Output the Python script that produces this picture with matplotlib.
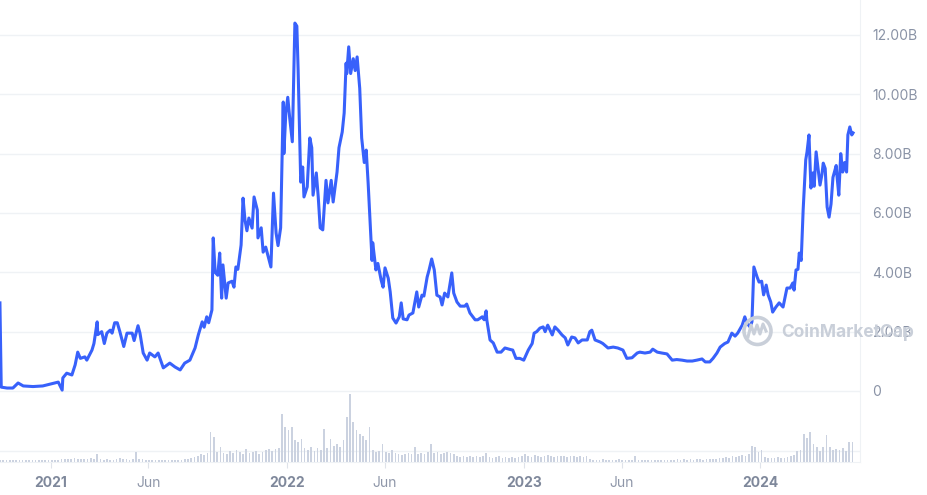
import matplotlib
matplotlib.use("Agg")
import matplotlib.pyplot as plt
import pandas as pd
from matplotlib.patches import Ellipse
from matplotlib.lines import Line2D

plt.rcParams['font.family'] = ['Inter', 'DejaVu Sans']

# market cap (billions USD); days counted from 2021-01-01
days = [
    -78, -76, -67, -58, -50, -42, -27, -12, -1, 12,
    18, 19, 25, 33, 38, 42, 46, 53, 56, 64,
    67, 72, 73, 79, 83, 87, 92, 95, 99, 103,
    107, 113, 118, 126, 129, 135, 138, 143, 149, 153,
    161, 166, 174, 184, 192, 200, 207, 215, 223, 228,
    234, 237, 241, 244, 249, 251, 254, 258, 261, 264,
    266, 271, 274, 280, 283, 286, 289, 294, 297, 300,
    303, 306, 311, 314, 319, 320, 325, 328, 332, 335,
    340, 344, 348, 351, 355, 359, 360, 363, 366, 369,
    373, 377, 380, 382, 386, 389, 391, 396, 400, 403,
    405, 410, 413, 416, 420, 425, 428, 433, 436, 439,
    442, 445, 450, 453, 456, 457, 460, 463, 467, 470,
    473, 477, 480, 484, 487, 490, 496, 497, 502, 505,
    510, 513, 516, 521, 524, 528, 533, 538, 541, 544,
    550, 553, 559, 565, 568, 573, 576, 581, 584, 588,
    592, 596, 601, 604, 608, 613, 616, 619, 622, 627,
    632, 639, 642, 647, 655, 659, 666, 669, 672, 673,
    678, 683, 689, 695, 701, 709, 713, 718, 724, 730,
    737, 743, 746, 750, 755, 760, 763, 767, 774, 778,
    783, 789, 794, 798, 804, 809, 814, 820, 828, 832,
    835, 840, 848, 852, 860, 868, 875, 883, 889, 897,
    905, 909, 917, 925, 929, 936, 943, 951, 959, 966,
    974, 982, 990, 997, 1005, 1010, 1017, 1022, 1028, 1033,
    1040, 1045, 1051, 1056, 1060, 1067, 1071, 1074, 1079, 1082,
    1085, 1090, 1093, 1097, 1100, 1104, 1107, 1111, 1114, 1119,
    1124, 1130, 1136, 1141, 1145, 1147, 1150, 1153, 1155, 1158,
    1161, 1165, 1167, 1170, 1173, 1176, 1178, 1181, 1184, 1187,
    1190, 1192, 1195, 1198, 1201, 1204, 1207, 1212, 1213, 1216,
    1219, 1222, 1225, 1228, 1230, 1233, 1236, 1238,
]
mcap = [
    2.97, 0.13, 0.10, 0.10, 0.27, 0.17, 0.15, 0.17, 0.23, 0.30,
    0.03, 0.44, 0.60, 0.54, 0.88, 1.31, 1.10, 1.15, 1.04, 1.38,
    1.60, 2.33, 1.90, 2.00, 1.60, 1.95, 2.05, 1.95, 2.30, 2.30,
    2.00, 1.50, 1.95, 1.95, 1.70, 2.20, 1.95, 1.28, 1.04, 1.28,
    1.15, 1.28, 0.78, 0.94, 0.81, 0.71, 0.94, 1.04, 1.45, 1.89,
    2.33, 2.15, 2.50, 2.30, 2.73, 5.16, 4.00, 3.90, 4.65, 3.13,
    4.25, 3.13, 3.64, 3.70, 3.50, 4.18, 4.10, 4.92, 6.50, 5.76,
    5.40, 5.83, 5.49, 6.54, 6.10, 5.16, 5.50, 4.68, 4.85, 4.60,
    4.18, 6.67, 5.32, 4.90, 5.50, 9.74, 8.00, 9.37, 9.90, 9.20,
    8.40, 12.40, 12.30, 10.80, 7.04, 7.55, 6.54, 6.88, 8.53, 8.20,
    6.60, 7.35, 6.54, 5.50, 5.43, 7.10, 6.34, 7.10, 6.37, 6.88,
    7.38, 8.20, 8.73, 9.37, 11.05, 10.70, 11.60, 10.70, 11.20, 10.80,
    11.26, 10.20, 8.53, 7.70, 8.12, 7.00, 4.40, 5.00, 4.08, 4.30,
    3.74, 3.50, 4.15, 3.80, 3.34, 2.46, 2.29, 2.50, 2.97, 2.43,
    2.40, 2.56, 2.63, 3.34, 2.83, 3.23, 3.20, 3.84, 4.08, 4.45,
    4.08, 3.23, 3.17, 2.90, 3.30, 3.17, 3.57, 3.98, 3.30, 3.00,
    2.86, 2.86, 2.93, 2.63, 2.40, 2.40, 2.50, 2.40, 2.70, 2.40,
    1.72, 1.62, 1.31, 1.31, 1.45, 1.40, 1.38, 1.10, 1.10, 1.04,
    1.38, 1.60, 1.95, 2.00, 2.12, 2.16, 2.00, 2.22, 1.89, 2.16,
    2.05, 1.89, 1.79, 1.55, 1.82, 1.79, 1.62, 1.72, 1.72, 2.00,
    2.05, 1.72, 1.65, 1.60, 1.45, 1.48, 1.45, 1.38, 1.10, 1.12,
    1.28, 1.31, 1.28, 1.31, 1.41, 1.31, 1.28, 1.25, 1.04, 1.06,
    1.04, 1.01, 1.01, 1.04, 1.08, 0.98, 0.98, 1.10, 1.28, 1.48,
    1.60, 1.65, 1.95, 1.85, 1.95, 2.22, 2.50, 2.30, 2.16, 2.33,
    4.18, 3.84, 3.67, 3.70, 3.24, 3.57, 3.24, 3.00, 2.66, 2.83,
    2.97, 2.83, 3.47, 3.47, 3.64, 3.40, 4.08, 4.10, 4.65, 4.40,
    6.10, 7.79, 8.06, 8.63, 6.84, 7.35, 6.90, 8.06, 7.50, 6.94,
    7.30, 7.68, 7.50, 6.20, 5.86, 6.30, 7.20, 7.60, 7.30, 6.60,
    8.00, 7.38, 7.70, 7.38, 8.63, 8.90, 8.63, 8.70,
]

# volume (billions USD), one bar every 5 days from 2020-10-15
volume = [
    0.08, 0.09, 0.08, 0.10, 0.09, 0.08, 0.10, 0.09, 0.08, 0.10,
    0.09, 0.10, 0.08, 0.09, 0.10, 0.09, 0.10, 0.11, 0.10,
    0.15, 0.13, 0.16, 0.14, 0.18, 0.15, 0.16, 0.14, 0.17, 0.20, 0.16,
    0.38,
    0.14, 0.12, 0.13, 0.11, 0.12, 0.14, 0.20, 0.16, 0.13, 0.12, 0.14,
    0.50,
    0.15, 0.13, 0.12, 0.11, 0.10, 0.12, 0.11, 0.10, 0.12, 0.11,
    0.10, 0.10, 0.11, 0.12, 0.14, 0.16, 0.20,
    0.25, 0.30, 0.40, 0.35, 0.45, 1.50, 1.25, 0.50, 0.75, 0.45,
    0.40, 0.55, 0.45, 0.60, 0.50, 0.40, 0.65, 0.45, 0.50, 0.55, 0.40, 0.50, 0.60,
    0.65, 0.55, 0.65, 0.70,
    2.40, 1.75, 1.60, 1.75, 1.10, 1.00, 1.15, 0.70,
    0.60, 0.75, 0.55, 0.70, 0.60,
    1.65, 0.70, 1.15, 0.80, 0.90, 0.75, 1.10,
    2.25, 3.40, 2.00, 1.60, 1.40, 1.30, 1.10, 1.75,
    0.60, 0.50, 0.55, 0.90,
    0.50, 0.45, 0.60, 0.45, 0.40, 0.35, 0.40, 0.45, 0.40,
    0.75, 0.40, 0.45, 0.40, 0.50, 0.90,
    0.45, 0.50, 0.40, 0.45, 0.50, 0.45, 0.40,
    0.30, 0.25, 0.30, 0.25, 0.30, 0.25, 0.30, 0.25, 0.30,
    0.45,
    0.25, 0.20, 0.25, 0.30, 0.20, 0.25, 0.20, 0.25, 0.20, 0.25,
    0.30, 0.40,
    0.30, 0.25, 0.35, 0.30, 0.25, 0.30, 0.35, 0.30, 0.25, 0.30,
    0.28, 0.30, 0.25, 0.30, 0.28, 0.25, 0.30, 0.25, 0.28,
    0.15, 0.12, 0.10, 0.12, 0.15, 0.10, 0.12, 0.10, 0.12, 0.15,
    0.10, 0.12, 0.10, 0.12, 0.30, 0.12, 0.10, 0.12, 0.10, 0.12,
    0.10, 0.12, 0.10, 0.12, 0.10, 0.12,
    0.12, 0.14, 0.12, 0.15, 0.12, 0.14, 0.12, 0.15, 0.13, 0.12,
    0.15, 0.14, 0.16, 0.15, 0.18,
    0.20, 0.25, 0.22, 0.30, 0.25, 0.28, 0.35, 0.30, 0.40,
    0.80, 0.75, 0.50, 0.60,
    0.25, 0.20, 0.22, 0.20, 0.25, 0.20, 0.22, 0.25, 0.30, 0.35,
    0.55, 0.60,
    1.40, 1.20, 1.50, 0.90, 0.75, 0.55, 0.75, 1.35, 0.75, 0.60,
    0.65, 0.60, 0.70, 0.55, 1.00, 1.00,
]

y_ticks = [0, 2, 4, 6, 8, 10, 12]
x_tick_dates = ['2021-01-01', '2021-06-01', '2022-01-01', '2022-06-01',
                '2023-01-01', '2023-06-01', '2024-01-01']
x_tick_labels = ['2021', 'Jun', '2022', 'Jun', '2023', 'Jun', '2024']

base = pd.Timestamp('2021-01-01')
dates = base + pd.to_timedelta(days, unit='D')
vol_dates = pd.date_range('2020-10-15', periods=len(volume), freq='5D')

W, H = 928, 495
fig = plt.figure(figsize=(W / 100, H / 100), dpi=100)

grid_c = '#eff2f5'
line_c = '#3861fb'
x0 = base - pd.Timedelta(days=77.9)
x1 = base + pd.Timedelta(days=1248.7)

# price panel
ax = fig.add_axes([0, (H - 393) / H, 860 / W, 393 / H])
ax.plot(dates, mcap, color=line_c, lw=2.2, solid_joinstyle='round', zorder=3)
ax.set_xlim(x0, x1)
ax.set_ylim(-2 / 29.67, 391 / 29.67)
ax.set_yticks(y_ticks)
ax.set_yticklabels(['0' if v == 0 else f'{v:.2f}B' for v in y_ticks])
ax.yaxis.tick_right()
ax.tick_params(axis='y', length=0, pad=9, labelsize=10, labelcolor='#8a93a6')
ax.tick_params(axis='x', bottom=False, labelbottom=False)
ax.grid(axis='y', color=grid_c, lw=1)
for s in ['top', 'left', 'bottom']:
    ax.spines[s].set_visible(False)
ax.spines['right'].set_color(grid_c)

# volume panel
vax = fig.add_axes([0, (H - 462) / H, 860 / W, 69 / H])
vax.bar(vol_dates, volume, width=2.6, color='#cbd2e0', zorder=2)
vax.set_xlim(x0, x1)
vax.set_ylim(0, 3.45)
vax.set_yticks([])
vax.axhline(0.55, color=grid_c, lw=1, zorder=1)
for s in ['top', 'left']:
    vax.spines[s].set_visible(False)
vax.spines['right'].set_color(grid_c)
vax.spines['bottom'].set_color(grid_c)
vax.set_xticks(pd.to_datetime(x_tick_dates))
vax.set_xticklabels(x_tick_labels)
vax.tick_params(axis='x', length=4, color='#dfe3ea', pad=6, labelsize=10)
for lbl in vax.get_xticklabels():
    if lbl.get_text() == 'Jun':
        lbl.set_color('#8f97a9')
    else:
        lbl.set_color('#7f889b')
        lbl.set_fontweight('bold')

# watermark
wm = '#c9cfd9'
fig.add_artist(Ellipse((757.5 / W, 1 - 331 / H), 27 / W, 27 / H, fill=False,
                       lw=2.6, edgecolor=wm, zorder=5))
fig.add_artist(Line2D([748 / W, 751 / W, 754 / W, 757 / W, 760 / W, 763 / W, 766 / W],
                      [1 - 337 / H, 1 - 325 / H, 1 - 334 / H, 1 - 325 / H,
                       1 - 334 / H, 1 - 324 / H, 1 - 331 / H],
                      color=wm, lw=2.2, zorder=5))
fig.text(781 / W, 1 - 332 / H, 'CoinMarketCap', fontsize=12.5, fontweight='bold',
         color=wm, va='center', ha='left', zorder=5)

fig.savefig('out.png', dpi=100)
